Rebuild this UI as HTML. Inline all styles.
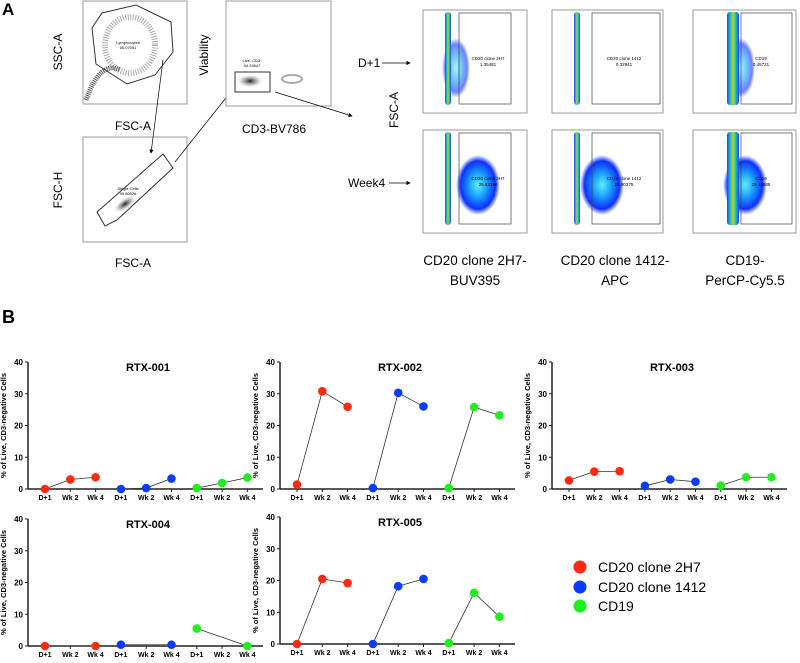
<!DOCTYPE html>
<html><head><meta charset="utf-8"><style>
body{margin:0;background:#fff;width:800px;height:658px;overflow:hidden;font-family:"Liberation Sans",sans-serif}
svg text{font-family:"Liberation Sans",sans-serif}
</style></head><body>
<svg id="fig" width="800" height="658" viewBox="0 0 800 658">
<defs>
<radialGradient id="blob" cx="50%" cy="50%" r="50%"><stop offset="0" stop-color="#5ff0ff"/><stop offset="0.4" stop-color="#1aa0ff"/><stop offset="0.8" stop-color="#1030ff"/><stop offset="1" stop-color="#2040ff" stop-opacity="0"/></radialGradient>
<linearGradient id="stripe" x1="0" x2="1"><stop offset="0" stop-color="#2040ff"/><stop offset="0.35" stop-color="#20e0a0"/><stop offset="0.5" stop-color="#ffb000"/><stop offset="0.65" stop-color="#20e0a0"/><stop offset="1" stop-color="#2040ff"/></linearGradient>
<radialGradient id="gray" cx="50%" cy="50%" r="50%"><stop offset="0" stop-color="#222"/><stop offset="0.5" stop-color="#888" stop-opacity="0.6"/><stop offset="1" stop-color="#fff" stop-opacity="0"/></radialGradient>
<marker id="ar" markerWidth="6" markerHeight="6" refX="5" refY="3" orient="auto"><path d="M0,0 L6,3 L0,6z" fill="#000"/></marker>
</defs>
<g>
<text x="2" y="15" font-size="17" font-weight="bold">A</text>
<rect x="83" y="1" width="104" height="103" fill="#fff" stroke="#999"/>
<ellipse cx="130" cy="45" rx="25" ry="28" fill="none" stroke="#aaa" stroke-width="6" stroke-dasharray="1 1.5"/>
<path d="M86,100 Q100,60 120,70" stroke="#555" stroke-width="5" fill="none" stroke-dasharray="1 1"/>
<polygon points="92,28 102,13 136,5 171,22 173,52 155,75 127,84 96,64" fill="none" stroke="#333"/>
<text x="128" y="44" font-size="4" text-anchor="middle">Lymphocytes</text><text x="128" y="49" font-size="4" text-anchor="middle">56.07051</text>
<text x="62" y="52" font-size="12" transform="rotate(-90 62 52)" text-anchor="middle">SSC-A</text>
<text x="133" y="130" font-size="12" text-anchor="middle">FSC-A</text>
<rect x="83" y="137" width="104" height="105" fill="#fff" stroke="#999"/>
<ellipse cx="125" cy="204" rx="14" ry="6" transform="rotate(-35 125 204)" fill="url(#gray)"/>
<polygon points="97,212 105,226 117,220 173,168 163,154" fill="none" stroke="#333"/>
<text x="128" y="190" font-size="4" text-anchor="middle">Single Cells</text><text x="128" y="195" font-size="4" text-anchor="middle">99.80576</text>
<text x="62" y="190" font-size="12" transform="rotate(-90 62 190)" text-anchor="middle">FSC-H</text>
<text x="133" y="267" font-size="12" text-anchor="middle">FSC-A</text>
<line x1="163" y1="60" x2="151" y2="153" stroke="#000" stroke-width="0.7" marker-end="url(#ar)"/>
<line x1="175" y1="162" x2="229" y2="94" stroke="#000" stroke-width="0.7" marker-end="url(#ar)"/>
<rect x="226" y="1" width="105" height="105" fill="#fff" stroke="#999"/>
<ellipse cx="250" cy="81" rx="14" ry="7" fill="url(#gray)"/>
<ellipse cx="292" cy="79" rx="10" ry="4" fill="none" stroke="#aaa" stroke-width="2"/>
<rect x="235" y="72" width="35" height="20" fill="none" stroke="#333"/>
<text x="252" y="62" font-size="4" text-anchor="middle">Live, CD3-</text><text x="252" y="67" font-size="4" text-anchor="middle">94.24647</text>
<text x="208" y="55" font-size="12" transform="rotate(-90 208 55)" text-anchor="middle">Viability</text>
<text x="274" y="133" font-size="12" text-anchor="middle">CD3-BV786</text>
<line x1="275" y1="92" x2="352" y2="116" stroke="#000" stroke-width="0.7" marker-end="url(#ar)"/>
<text x="398" y="110" font-size="12" transform="rotate(-90 398 110)" text-anchor="middle">FSC-A</text>
<text x="358" y="67" font-size="12">D+1</text>
<line x1="382" y1="63" x2="410" y2="63" stroke="#000" stroke-width="0.7" marker-end="url(#ar)"/>
<text x="348" y="187" font-size="12">Week4</text>
<line x1="389" y1="183" x2="410" y2="183" stroke="#000" stroke-width="0.7" marker-end="url(#ar)"/>
<g id="dens"></g>
<text x="475" y="265" font-size="13.5" text-anchor="middle">CD20 clone 2H7-</text>
<text x="475" y="285" font-size="13.5" text-anchor="middle">BUV395</text>
<text x="615" y="265" font-size="13.5" text-anchor="middle">CD20 clone 1412-</text>
<text x="615" y="285" font-size="13.5" text-anchor="middle">APC</text>
<text x="745" y="265" font-size="13.5" text-anchor="middle">CD19-</text>
<text x="745" y="285" font-size="13.5" text-anchor="middle">PerCP-Cy5.5</text>
</g>
<g>
<text x="2" y="323" font-size="18" font-weight="bold">B</text>
<g id="charts"></g>
<g>
<circle cx="580" cy="567" r="6.5" fill="#ff2a10"/>
<text x="598" y="572" font-size="14">CD20 clone 2H7</text>
<circle cx="580" cy="587" r="6.5" fill="#0a3cff"/>
<text x="598" y="592" font-size="14">CD20 clone 1412</text>
<circle cx="580" cy="606" r="6.5" fill="#20ee20"/>
<text x="598" y="611" font-size="14">CD19</text>
</g>
</g>
</svg>
<script>
const NS="http://www.w3.org/2000/svg";
const panels=["RTX-001","RTX-002","RTX-003","RTX-004","RTX-005"];
const timepoints=["D+1","Wk 2","Wk 4"];
const yTicks=[0,10,20,30,40];
const seriesNames=["CD20 clone 2H7","CD20 clone 1412","CD19"];
const cd20_2h7=[[0,3,3.7],[1.4,30.8,25.9],[2.7,5.5,5.6],[0,null,0],[0,20.5,19.2]];
const cd20_1412=[[0,0.3,3.3],[0.3,30.3,26],[1,3,2.3],[0.4,null,0.4],[0,18.2,20.5]];
const cd19=[[0.3,1.9,3.6],[0.3,25.8,23.2],[1.1,3.7,3.7],[5.5,null,0],[0.3,16.1,8.6]];
const colors=["#ff2a10","#0a3cff","#20ee20"];
const layout=[{ax:28,top:362,bot:489},{ax:280,top:362,bot:489},{ax:552,top:362,bot:489},{ax:28,top:519,bot:646},{ax:280,top:517,bot:644}];
const root=document.getElementById("charts");
function mk(t,a,p){const e=document.createElementNS(NS,t);for(const k in a)e.setAttribute(k,a[k]);(p||root).appendChild(e);return e;}
panels.forEach((name,pi)=>{
  const L=layout[pi];
  const g=mk("g",{});
  
  
  const y=v=>L.bot-(v/40)*(L.bot-L.top);
  const x=i=>L.ax+17+i*25.3;
  const right=L.ax+235;
  mk("line",{x1:L.ax,y1:L.top,x2:L.ax,y2:L.bot,stroke:"#222","stroke-width":1.5},g);
  mk("line",{x1:L.ax,y1:L.bot,x2:right,y2:L.bot,stroke:"#222","stroke-width":1.5},g);
  yTicks.forEach(t=>{
    mk("line",{x1:L.ax-3,y1:y(t),x2:L.ax,y2:y(t),stroke:"#222","stroke-width":1},g);
    const tx=mk("text",{x:L.ax-5,y:y(t)+3,"font-size":8,"font-weight":"bold","text-anchor":"end"},g);
    tx.textContent=t;
    
    
  });
  for(let i=0;i<9;i++){
    mk("line",{x1:x(i),y1:L.bot,x2:x(i),y2:L.bot+3,stroke:"#222","stroke-width":1},g);
    const tx=mk("text",{x:x(i),y:L.bot+11,"font-size":7,"font-weight":"bold","text-anchor":"middle"},g);
    tx.textContent=timepoints[i%3];
    
    
  }
  const tt=mk("text",{x:L.ax+120,y:L.top+9,"font-size":11,"font-weight":"bold","text-anchor":"middle"},g);
  tt.textContent=name;
  
  
  const yl=mk("text",{x:0,y:0,"font-size":7.5,"font-weight":"bold","text-anchor":"middle",transform:`translate(${L.ax-22},${(L.top+L.bot)/2}) rotate(-90)`},g);
  yl.textContent="% of Live, CD3-negative Cells";
  
  
  [cd20_2h7,cd20_1412,cd19].forEach((ser,si)=>{
    const vals=ser[pi];
    const pts=[];
    vals.forEach((v,j)=>{if(v!==null)pts.push([x(si*3+j),y(v)]);});
    if(pts.length>1){
      const pl=mk("polyline",{points:pts.map(p=>p.join(",")).join(" "),fill:"none",stroke:"#333","stroke-width":0.8},g);
      
      
    }
    pts.forEach(p=>{
      const c=mk("circle",{cx:p[0],cy:p[1],r:4.3,fill:colors[si]},g);
      
      
    });
  });
});
const dens=document.getElementById("dens");
const boxes=[[423,552,693],[10,130]];
const gateLabels=[["CD20 clone 2H7","1.35481"],["CD20 clone 1412","0.32941"],["CD19","0.45721"],["CD20 clone 2H7","25.83196"],["CD20 clone 1412","25.90375"],["CD19","23.13888"]];
[0,1].forEach(r=>{[0,1,2].forEach(c=>{
  const bx=boxes[0][c],by=boxes[1][r],w=c==0?104:(c==1?111:103),h=103;
  const g=mk("g",{},dens);
  
  
  mk("rect",{x:bx,y:by,width:w,height:h,fill:"#fff",stroke:"#999"},g);
  const sx=bx+(c==2?40:25);
  if(r==1) mk("ellipse",{cx:bx+(c==0?55:(c==1?50:52)),cy:by+55,rx:22,ry:30,fill:"url(#blob)"},g);
  if(r==0&&c!=1) mk("ellipse",{cx:sx+8,cy:by+58,rx:14,ry:30,fill:"url(#blob)",opacity:0.6},g);
  mk("rect",{x:sx-(c==2?6:3),y:by+2,width:c==2?12:6,height:h-10,rx:3,fill:"url(#stripe)"},g);
  const gx=c==1?bx+40:bx+(c==0?36:48);
  mk("rect",{x:gx,y:by+3,width:c==1?w-43:w-52,height:h-12,fill:"none",stroke:"#444","stroke-width":0.7},g);
  const lb=gateLabels[r*3+c];
  const t1=mk("text",{x:bx+(c==0?65:(c==1?72:68)),y:by+50,"font-size":4.5,"text-anchor":"middle"},g);t1.textContent=lb[0];
  const t2=mk("text",{x:bx+(c==0?65:(c==1?72:68)),y:by+56,"font-size":4.5,"text-anchor":"middle"},g);t2.textContent=lb[1];
});});
</script>
</body></html>
